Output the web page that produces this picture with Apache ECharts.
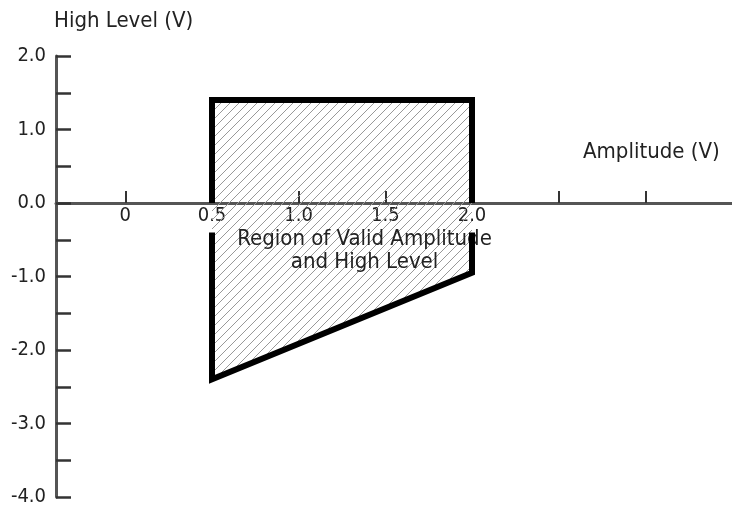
<!DOCTYPE html>
<html>
<head>
<meta charset="utf-8">
<script src="https://cdn.jsdelivr.net/npm/echarts@6/dist/echarts.min.js"></script>
<style>
  html, body { margin: 0; padding: 0; background: #fff; }
  #chart { width: 732px; height: 510px; }
</style>
</head>
<body>
<div id="chart"></div>
<script>
// x 轴刻度 (Amplitude, V)
const xTicks = [0, 0.5, 1.0, 1.5, 2.0, 2.5, 3.0]
const xLabels = [0, 0.5, 1.0, 1.5, 2.0]
// y 轴标签 (High Level, V)
const yLabels = [-4, -3, -2, -1, 0, 1, 2]
// 有效区域的顶点
const regionAmp = [0.5, 2.0, 2.0, 0.5]
const regionHigh = [1.4, 1.4, -0.95, -2.4]
// 外框（在 0.5 / 2.0 标签处断开）
const outlineTop = [[0.5, 0], [0.5, 1.4], [2.0, 1.4], [2.0, 0]]
const outlineBottom = [[2.0, -0.4], [2.0, -0.95], [0.5, -2.4], [0.5, -0.4]]
const regionText = ['Region of Valid Amplitude', 'and High Level']
const regionTextAt = [1.38, -0.65]

const FONT = "'DejaVu Sans Condensed', 'DejaVu Sans', sans-serif"
const TEXT = '#222'

// 斜线填充
function hatch() {
  const c = document.createElement('canvas')
  const s = 9
  c.width = s
  c.height = s
  const ctx = c.getContext('2d')
  ctx.strokeStyle = '#999'
  ctx.lineWidth = 1
  ctx.beginPath()
  ctx.moveTo(-1, s + 1); ctx.lineTo(s + 1, -1)
  ctx.moveTo(-2, 2); ctx.lineTo(2, -2)
  ctx.moveTo(s - 2, s + 2); ctx.lineTo(s + 2, s - 2)
  ctx.stroke()
  return c
}
const hatchImg = hatch()

const chart = echarts.init(document.getElementById('chart'))
const option = {
  animation: false,
  grid: { left: 56, right: 0, top: 56, bottom: 13, outerBoundsMode: 'none' },
  xAxis: {
    type: 'value',
    min: -0.4,
    max: 3.5,
    offset: -294, // x 轴放在 y = 0 处
    splitLine: { show: false },
    axisLine: { onZero: false, lineStyle: { color: '#555', width: 3 } },
    axisTick: {
      inside: true,
      length: 12,
      customValues: xTicks,
      lineStyle: { color: '#333', width: 2 }
    },
    axisLabel: {
      customValues: xLabels,
      margin: 3,
      color: TEXT,
      fontFamily: FONT,
      fontSize: 20,
      formatter: v => (v === 0 ? '0' : v.toFixed(1))
    }
  },
  yAxis: {
    type: 'value',
    min: -4,
    max: 2,
    interval: 0.5,
    splitLine: { show: false },
    axisLine: { show: true, onZero: false, lineStyle: { color: '#555', width: 3 } },
    axisTick: { show: true, inside: true, length: 15, lineStyle: { color: '#333', width: 2.5 } },
    axisLabel: {
      customValues: yLabels,
      margin: 10,
      color: TEXT,
      fontFamily: FONT,
      fontSize: 20,
      formatter: v => v.toFixed(1)
    }
  },
  graphic: [
    {
      type: 'text', left: 54, top: 10,
      style: { text: 'High Level (V)', fill: TEXT, font: '22px ' + FONT }
    },
    {
      type: 'text', left: 583, top: 141,
      style: { text: 'Amplitude (V)', fill: TEXT, font: '22px ' + FONT }
    }
  ],
  series: [
    {
      type: 'custom',
      data: [0],
      z: 1,
      renderItem: (params, api) => {
        const pts = regionAmp.map((a, i) => api.coord([a, regionHigh[i]]))
        const at = api.coord(regionTextAt)
        return {
          type: 'group',
          children: [
            {
              type: 'polygon',
              shape: { points: pts },
              style: { fill: { image: hatchImg, repeat: 'repeat' } }
            },
            {
              type: 'text',
              x: at[0],
              y: at[1],
              z2: 10,
              style: {
                text: regionText.join('\n'),
                fill: TEXT,
                font: '22px ' + FONT,
                align: 'center',
                verticalAlign: 'middle',
                lineHeight: 23
              }
            }
          ]
        }
      }
    },
    {
      type: 'line',
      data: outlineTop,
      symbol: 'none',
      z: 5,
      lineStyle: { color: '#000', width: 6, join: 'miter', cap: 'butt' }
    },
    {
      type: 'line',
      data: outlineBottom,
      symbol: 'none',
      z: 5,
      lineStyle: { color: '#000', width: 6, join: 'miter', cap: 'butt' }
    }
  ]
}
chart.setOption(option)
</script>
</body>
</html>
